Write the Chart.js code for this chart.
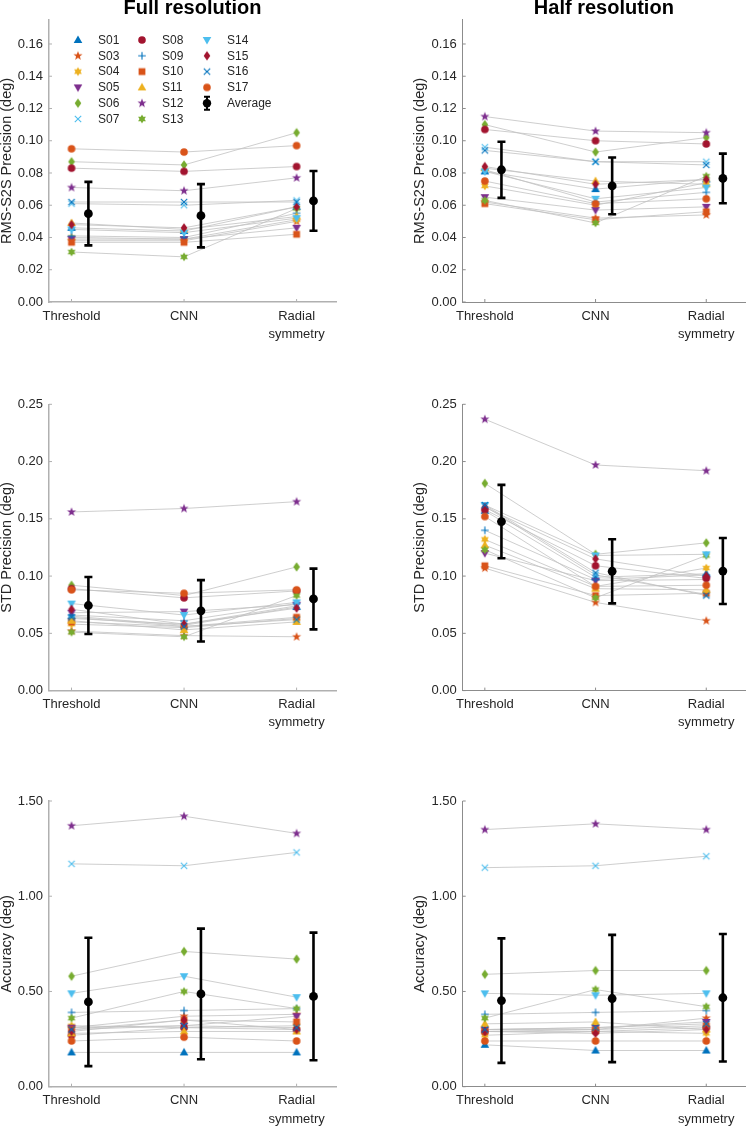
<!DOCTYPE html>
<html>
<head>
<meta charset="utf-8">
<script src="https://cdn.jsdelivr.net/npm/chart.js@4.4.1/dist/chart.umd.min.js"></script>
<style>
  html, body { margin: 0; padding: 0; background: #fff; }
  #wrap { position: relative; width: 750px; height: 1126px; overflow: hidden; }
  canvas { position: absolute; }
</style>
</head>
<body>
<div id="wrap">
  <canvas id="c0"></canvas><canvas id="c1"></canvas>
  <canvas id="c2"></canvas><canvas id="c3"></canvas>
  <canvas id="c4"></canvas><canvas id="c5"></canvas>
</div>
<script>
// Subjects and methods
const subjects = ['S01', 'S03', 'S04', 'S05', 'S06', 'S07', 'S08', 'S09', 'S10', 'S11', 'S12', 'S13', 'S14', 'S15', 'S16', 'S17'];
const methods = ['Threshold', 'CNN', ['Radial', 'symmetry']];

// Per-subject values: [Threshold, CNN, Radial symmetry], rows in subject order
const rmsFull = [
  [0.046, 0.044, 0.059], [0.038, 0.038, 0.050], [0.040, 0.039, 0.051], [0.039, 0.039, 0.046],
  [0.087, 0.085, 0.105], [0.061, 0.060, 0.063], [0.083, 0.081, 0.084], [0.041, 0.040, 0.055],
  [0.037, 0.037, 0.042], [0.049, 0.045, 0.053], [0.071, 0.069, 0.077], [0.031, 0.028, 0.058],
  [0.045, 0.043, 0.052], [0.048, 0.046, 0.059], [0.062, 0.062, 0.062], [0.095, 0.093, 0.097]
];
const rmsHalf = [
  [0.081, 0.070, 0.076], [0.062, 0.052, 0.054], [0.072, 0.060, 0.074], [0.065, 0.057, 0.059],
  [0.110, 0.093, 0.102], [0.096, 0.087, 0.087], [0.107, 0.100, 0.098], [0.082, 0.062, 0.068],
  [0.061, 0.051, 0.056], [0.083, 0.075, 0.073], [0.115, 0.106, 0.105], [0.063, 0.049, 0.078],
  [0.081, 0.064, 0.071], [0.084, 0.073, 0.076], [0.094, 0.087, 0.085], [0.075, 0.061, 0.064]
];
const stdFull = [
  [0.065, 0.057, 0.073], [0.052, 0.048, 0.047], [0.058, 0.055, 0.063], [0.068, 0.069, 0.075],
  [0.092, 0.083, 0.108], [0.063, 0.058, 0.074], [0.089, 0.081, 0.087], [0.066, 0.061, 0.076],
  [0.060, 0.056, 0.064], [0.061, 0.053, 0.060], [0.156, 0.159, 0.165], [0.051, 0.047, 0.083],
  [0.076, 0.066, 0.077], [0.071, 0.058, 0.072], [0.064, 0.056, 0.062], [0.088, 0.085, 0.088]
];
const stdHalf = [
  [0.157, 0.099, 0.102], [0.107, 0.077, 0.061], [0.132, 0.091, 0.107], [0.120, 0.096, 0.097],
  [0.181, 0.119, 0.129], [0.161, 0.101, 0.084], [0.158, 0.109, 0.098], [0.140, 0.097, 0.101],
  [0.109, 0.083, 0.085], [0.127, 0.089, 0.088], [0.237, 0.197, 0.192], [0.123, 0.081, 0.118],
  [0.162, 0.118, 0.119], [0.160, 0.115, 0.100], [0.162, 0.103, 0.083], [0.152, 0.091, 0.092]
];
const accFull = [
  [0.18, 0.18, 0.18], [0.31, 0.37, 0.38], [0.32, 0.31, 0.32], [0.31, 0.32, 0.37],
  [0.58, 0.71, 0.67], [1.17, 1.16, 1.23], [0.27, 0.31, 0.30], [0.39, 0.40, 0.41],
  [0.30, 0.35, 0.34], [0.28, 0.29, 0.29], [1.37, 1.42, 1.33], [0.36, 0.50, 0.41],
  [0.49, 0.58, 0.47], [0.29, 0.35, 0.30], [0.30, 0.32, 0.31], [0.24, 0.26, 0.24]
];
const accHalf = [
  [0.22, 0.19, 0.19], [0.30, 0.30, 0.36], [0.27, 0.29, 0.28], [0.30, 0.31, 0.34],
  [0.59, 0.61, 0.61], [1.15, 1.16, 1.21], [0.29, 0.29, 0.31], [0.38, 0.39, 0.40],
  [0.29, 0.30, 0.32], [0.33, 0.34, 0.30], [1.35, 1.38, 1.35], [0.36, 0.51, 0.42],
  [0.49, 0.48, 0.49], [0.29, 0.28, 0.30], [0.30, 0.31, 0.33], [0.24, 0.24, 0.24]
];

// Group averages and standard deviations
const rmsFullMean = [0.0548, 0.0535, 0.0627];
const rmsFullSd = [0.0197, 0.0196, 0.0185];
const rmsHalfMean = [0.0820, 0.0720, 0.0766];
const rmsHalfSd = [0.0174, 0.0176, 0.0154];
const stdFullMean = [0.0743, 0.0697, 0.0800];
const stdFullSd = [0.0249, 0.0268, 0.0265];
const stdHalfMean = [0.1476, 0.1042, 0.1044];
const stdHalfSd = [0.0320, 0.0280, 0.0288];
const accFullMean = [0.445, 0.487, 0.474];
const accFullSd = [0.337, 0.343, 0.335];
const accHalfMean = [0.452, 0.463, 0.467];
const accHalfSd = [0.327, 0.334, 0.335];

// y-axis tick setup per row
const rmsTicks = { max: 0.175, step: 0.02 };
const stdTicks = { max: 0.25, step: 0.05 };
const accTicks = { max: 1.5, step: 0.5 };

const FONT = "'Liberation Sans', Arial, sans-serif";
const TEXT = '#262626';
const LINE_GRAY = '#c2c2c2';
const AVG_OFFSET = 0.15;

const shapes = ['triUp', 'pent', 'hex', 'triDown', 'diamond', 'x', 'circle', 'plus',
                'square', 'triUp', 'pent', 'hex', 'triDown', 'diamond', 'x', 'circle'];
const colors = ['#0072BD', '#D95319', '#EDB120', '#7E2F8E', '#77AC30', '#4DBEEE', '#A2142F', '#0072BD',
                '#D95319', '#EDB120', '#7E2F8E', '#77AC30', '#4DBEEE', '#A2142F', '#0072BD', '#D95319'];

// MATLAB-ish marker glyphs as little canvases (Chart.js pointStyle accepts them)
function makeMarker(shape, color) {
  const s = 16;
  const c = document.createElement('canvas');
  c.width = s; c.height = s;
  const g = c.getContext('2d');
  g.translate(s / 2, s / 2);
  g.fillStyle = color;
  g.strokeStyle = color;
  g.lineWidth = 1.1;
  g.beginPath();
  if (shape === 'circle') {
    g.arc(0, 0, 3.8, 0, Math.PI * 2);
  } else if (shape === 'square') {
    g.rect(-3.4, -3.4, 6.8, 6.8);
  } else if (shape === 'triUp') {
    g.moveTo(0, -4.6); g.lineTo(4.3, 2.9); g.lineTo(-4.3, 2.9);
  } else if (shape === 'triDown') {
    g.moveTo(0, 4.6); g.lineTo(4.3, -2.9); g.lineTo(-4.3, -2.9);
  } else if (shape === 'diamond') {
    g.moveTo(0, -4.8); g.lineTo(3.3, 0); g.lineTo(0, 4.8); g.lineTo(-3.3, 0);
  } else if (shape === 'pent' || shape === 'hex') {
    const n = shape === 'pent' ? 5 : 6;
    const R = shape === 'pent' ? 4.8 : 4.5;
    const r = shape === 'pent' ? 2.0 : 2.5;
    for (let i = 0; i < n * 2; i++) {
      const a = -Math.PI / 2 + i * Math.PI / n;
      const rad = i % 2 ? r : R;
      if (i === 0) g.moveTo(rad * Math.cos(a), rad * Math.sin(a));
      else g.lineTo(rad * Math.cos(a), rad * Math.sin(a));
    }
  }
  if (shape === 'x') {
    g.moveTo(-3.2, -3.2); g.lineTo(3.2, 3.2); g.moveTo(3.2, -3.2); g.lineTo(-3.2, 3.2);
    g.stroke();
  } else if (shape === 'plus') {
    g.moveTo(-3.8, 0); g.lineTo(3.8, 0); g.moveTo(0, -3.8); g.lineTo(0, 3.8);
    g.stroke();
  } else {
    g.closePath();
    g.fill();
  }
  return c;
}
const markers = shapes.map((s, i) => makeMarker(s, colors[i]));

// Error bars drawn right before the average dataset
const errorBars = {
  id: 'errorBars',
  beforeDatasetDraw(chart, args) {
    const ds = chart.data.datasets[args.index];
    if (!ds.sd) return;
    const { ctx, scales: { x, y } } = chart;
    ctx.save();
    ctx.strokeStyle = '#000';
    ctx.lineWidth = 2.6;
    ds.data.forEach((pt, k) => {
      const px = x.getPixelForValue(pt.x);
      const top = y.getPixelForValue(pt.y + ds.sd[k]);
      const bot = y.getPixelForValue(pt.y - ds.sd[k]);
      ctx.beginPath();
      ctx.moveTo(px, top); ctx.lineTo(px, bot);
      ctx.moveTo(px - 4, top); ctx.lineTo(px + 4, top);
      ctx.moveTo(px - 4, bot); ctx.lineTo(px + 4, bot);
      ctx.stroke();
    });
    ctx.restore();
  }
};

// Inward tick marks like MATLAB axes
const tickMarks = {
  id: 'tickMarks',
  afterDraw(chart, args, opts) {
    const { ctx, chartArea: a, scales: { x, y } } = chart;
    ctx.save();
    ctx.strokeStyle = opts.color;
    ctx.lineWidth = 1;
    ctx.beginPath();
    x.ticks.forEach(t => {
      const px = x.getPixelForValue(t.value);
      ctx.moveTo(px, a.bottom); ctx.lineTo(px, a.bottom - 3);
    });
    y.ticks.forEach(t => {
      const py = y.getPixelForValue(t.value);
      ctx.moveTo(a.left, py); ctx.lineTo(a.left + 3, py);
    });
    ctx.stroke();
    ctx.restore();
  }
};

// Column heading ("Full resolution" / "Half resolution")
const heading = {
  id: 'heading',
  afterDraw(chart, args, opts) {
    if (!opts.text) return;
    const { ctx, chartArea: a } = chart;
    ctx.save();
    ctx.font = 'bold 20px ' + FONT;
    ctx.fillStyle = '#000';
    ctx.textAlign = 'center';
    ctx.textBaseline = 'alphabetic';
    ctx.fillText(opts.text, (a.left + a.right) / 2, 14);
    ctx.restore();
  }
};

// Three-column legend in the first panel
const subjectLegend = {
  id: 'subjectLegend',
  afterDraw(chart, args, opts) {
    if (!opts.show) return;
    const ctx = chart.ctx;
    const colX = [78, 142, 207];
    const y0 = 40, dy = 15.8;
    ctx.save();
    ctx.font = '12px ' + FONT;
    ctx.fillStyle = TEXT;
    ctx.textBaseline = 'middle';
    const entries = subjects.map((s, i) => ({ label: s, img: markers[i] }));
    entries.push({ label: 'Average', avg: true });
    entries.forEach((e, i) => {
      const col = Math.floor(i / 6), row = i % 6;
      const mx = colX[col], my = y0 + row * dy;
      if (e.avg) {
        ctx.strokeStyle = '#000';
        ctx.lineWidth = 2;
        ctx.beginPath();
        ctx.moveTo(mx, my - 6.5); ctx.lineTo(mx, my + 6.5);
        ctx.moveTo(mx - 3, my - 6.5); ctx.lineTo(mx + 3, my - 6.5);
        ctx.moveTo(mx - 3, my + 6.5); ctx.lineTo(mx + 3, my + 6.5);
        ctx.stroke();
        ctx.fillStyle = '#000';
        ctx.beginPath();
        ctx.arc(mx, my, 4.2, 0, Math.PI * 2);
        ctx.fill();
        ctx.fillStyle = TEXT;
      } else {
        ctx.drawImage(e.img, mx - e.img.width / 2, my - e.img.height / 2);
      }
      ctx.fillText(e.label, mx + 20, my + 0.5);
    });
    ctx.restore();
  }
};

const panels = [
  { id: 'c0', left: 0, top: 0, w: 375, h: 345, area: [49, 336, 19.8, 302], ticks: rmsTicks,
    yTitle: 'RMS-S2S Precision (deg)', values: rmsFull, mean: rmsFullMean, sd: rmsFullSd,
    head: 'Full resolution', legend: true, axis: '#b0b0b0', axisW: 1.5, titlePad: 0 },
  { id: 'c1', left: 375, top: 0, w: 375, h: 345, area: [462.7, 749.6, 19.8, 302], ticks: rmsTicks,
    yTitle: 'RMS-S2S Precision (deg)', values: rmsHalf, mean: rmsHalfMean, sd: rmsHalfSd,
    head: 'Half resolution', legend: false, axis: '#8c8c8c', axisW: 1, titlePad: 37.5 },
  { id: 'c2', left: 0, top: 345, w: 375, h: 390, area: [49, 336, 404.3, 690.6], ticks: stdTicks,
    yTitle: 'STD Precision (deg)', values: stdFull, mean: stdFullMean, sd: stdFullSd,
    head: '', legend: false, axis: '#b0b0b0', axisW: 1.5, titlePad: 0 },
  { id: 'c3', left: 375, top: 345, w: 375, h: 390, area: [462.7, 749.6, 404.3, 690.6], ticks: stdTicks,
    yTitle: 'STD Precision (deg)', values: stdHalf, mean: stdHalfMean, sd: stdHalfSd,
    head: '', legend: false, axis: '#8c8c8c', axisW: 1, titlePad: 37.5 },
  { id: 'c4', left: 0, top: 735, w: 375, h: 391, area: [49, 336, 801, 1086.7], ticks: accTicks,
    yTitle: 'Accuracy (deg)', values: accFull, mean: accFullMean, sd: accFullSd,
    head: '', legend: false, axis: '#b0b0b0', axisW: 1.5, titlePad: 0 },
  { id: 'c5', left: 375, top: 735, w: 375, h: 391, area: [462.7, 749.6, 801, 1086.7], ticks: accTicks,
    yTitle: 'Accuracy (deg)', values: accHalf, mean: accHalfMean, sd: accHalfSd,
    head: '', legend: false, axis: '#8c8c8c', axisW: 1, titlePad: 37.5 }
];

function buildPanel(p) {
  const cv = document.getElementById(p.id);
  cv.width = p.w; cv.height = p.h;
  cv.style.left = p.left + 'px';
  cv.style.top = p.top + 'px';
  const [aL, aR, aT, aB] = p.area;

  const datasets = [];
  // grey connecting lines first (underneath)
  p.values.forEach((row, i) => {
    datasets.push({
      label: subjects[i] + ' line',
      data: row.map((v, k) => ({ x: k + 1, y: v })),
      showLine: true, borderColor: LINE_GRAY, borderWidth: 0.8,
      pointRadius: 0, order: 60
    });
  });
  // subject markers, later subjects on top
  p.values.forEach((row, i) => {
    datasets.push({
      label: subjects[i],
      data: row.map((v, k) => ({ x: k + 1, y: v })),
      showLine: false, pointStyle: markers[i], pointRadius: 4,
      order: 40 - i
    });
  });
  // group average with error bars
  datasets.push({
    label: 'Average',
    data: p.mean.map((v, k) => ({ x: k + 1 + AVG_OFFSET, y: v })),
    sd: p.sd,
    showLine: false, pointStyle: 'circle', pointRadius: 4.4,
    backgroundColor: '#000', borderColor: '#000', borderWidth: 0, order: 0
  });

  new Chart(cv, {
    type: 'scatter',
    data: { datasets },
    options: {
      responsive: false,
      animation: false,
      events: [],
      layout: { padding: { left: 0, right: p.left + p.w - aR, top: aT - p.top, bottom: 0 } },
      scales: {
        x: {
          type: 'linear', min: 0.8, max: 3.35,
          grid: { display: false, drawTicks: false, tickLength: 0 },
          border: { display: true, color: p.axis, width: p.axisW },
          ticks: {
            stepSize: 1, includeBounds: false, maxRotation: 0, autoSkip: false, padding: 5,
            color: TEXT, font: { family: FONT, size: 13, lineHeight: 1.4 },
            callback: v => methods[v - 1] || ''
          },
          afterFit: s => { s.height = p.top + p.h - aB; }
        },
        y: {
          min: 0, max: p.ticks.max,
          grid: { display: false, drawTicks: false, tickLength: 0 },
          border: { display: true, color: p.axis, width: p.axisW },
          ticks: {
            stepSize: p.ticks.step, includeBounds: false, padding: 6,
            color: TEXT, font: { family: FONT, size: 13 },
            callback: v => v.toFixed(2)
          },
          title: {
            display: true, text: p.yTitle, color: TEXT,
            font: { family: FONT, size: 14.5, lineHeight: 1 },
            padding: { top: p.titlePad, bottom: 0 }
          },
          afterFit: s => { s.width = aL - p.left; }
        }
      },
      plugins: {
        legend: { display: false },
        tooltip: { enabled: false },
        tickMarks: { color: p.axis },
        heading: { text: p.head },
        subjectLegend: { show: p.legend }
      }
    },
    plugins: [errorBars, tickMarks, heading, subjectLegend]
  });
}

panels.forEach(buildPanel);
</script>
</body>
</html>
